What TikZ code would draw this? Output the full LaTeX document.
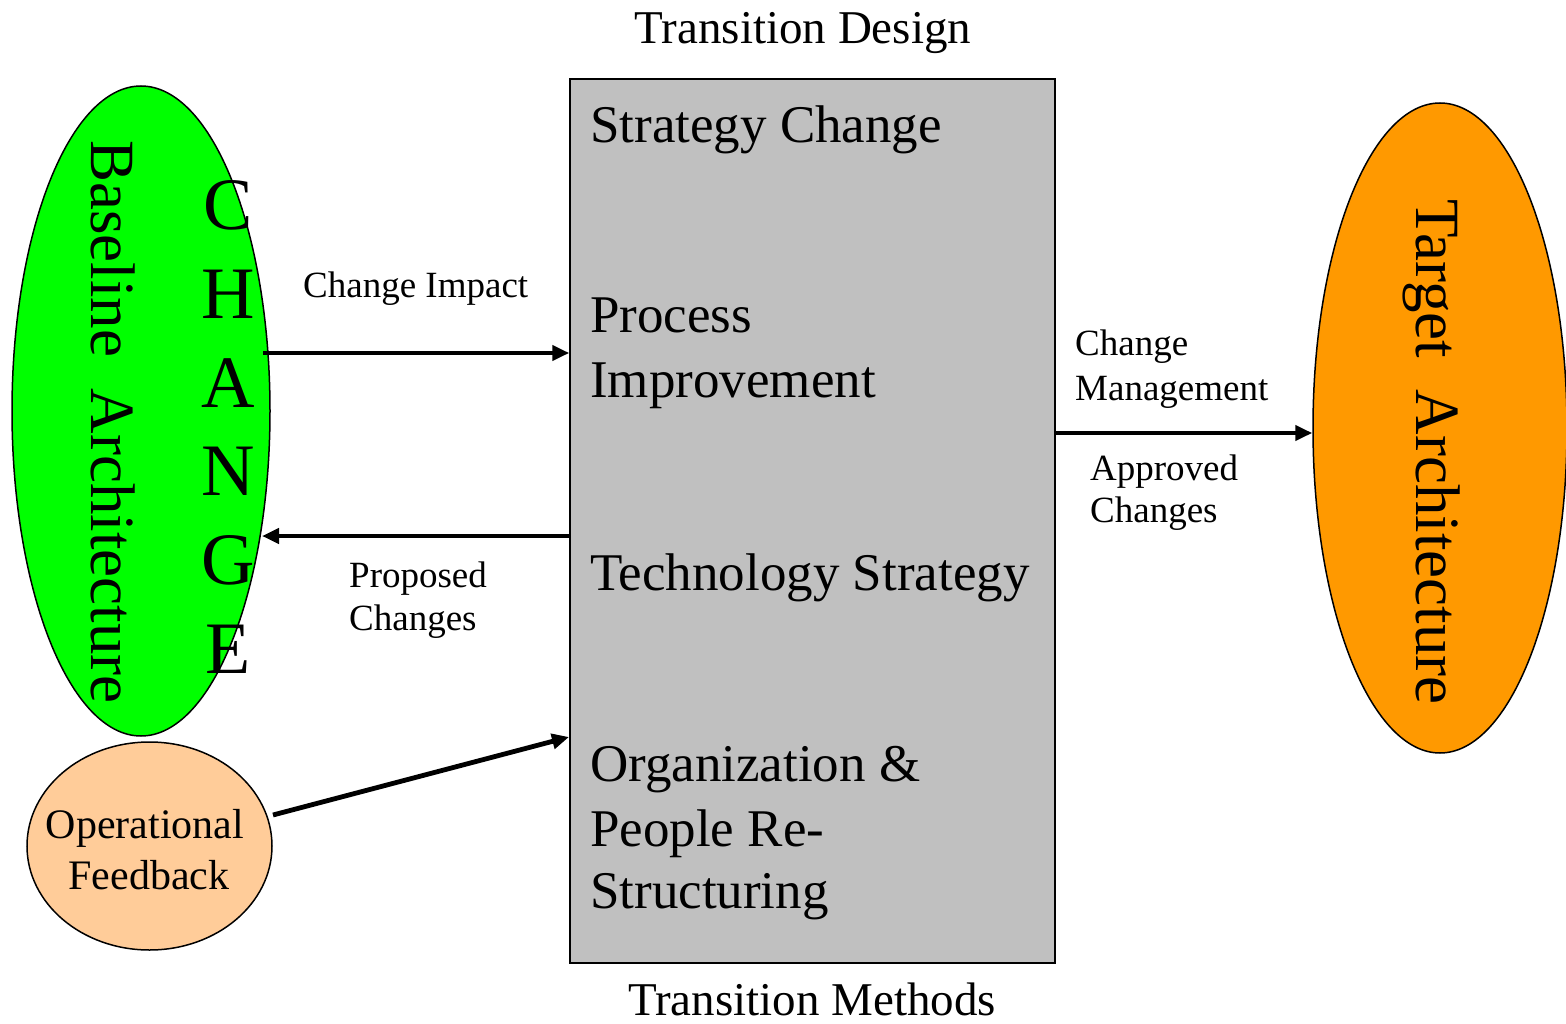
\documentclass[tikz,border=0pt]{standalone}
\usepackage{fontspec}
\setmainfont{Liberation Serif}
\usetikzlibrary{shapes.geometric,arrows.meta}
\begin{document}
\begin{tikzpicture}[x=1pt,y=-1pt,
  lbl/.style={inner sep=0pt,anchor=base west},
  title/.style={inner sep=0pt,anchor=base,font=\fontsize{47}{56}\selectfont},
  boxtxt/.style={lbl,font=\fontsize{53}{64}\selectfont},
  small/.style={lbl,font=\fontsize{37}{45}\selectfont},
  arr/.style={line width=4.8pt,-{Triangle[length=17pt,width=15pt]}},
  blob/.style={ellipse,draw=black,line width=1.5pt,inner sep=0pt}]
\useasboundingbox (0,0) rectangle (1566,1024);
\fill[white] (0,0) rectangle (1566,1024);

% main box
\node[draw=black,line width=1.5pt,fill={rgb,255:red,192;green,192;blue,192},inner sep=0pt,
  minimum width=485pt,minimum height=884pt] (box) at (812.5,521) {};

% ellipses
\node[blob,fill={rgb,255:red,0;green,255;blue,0},minimum width=258pt,minimum height=650pt] (base) at (141,411) {};
\node[blob,fill={rgb,255:red,255;green,153;blue,0},minimum width=254pt,minimum height=650pt] (target) at (1440,428) {};
\node[blob,fill={rgb,255:red,255;green,204;blue,153},minimum width=245pt,minimum height=208pt] (fb) at (149.5,846) {};

% titles
\node[title] (tdesign) at (803,44) {Transition Design};
\node[title] (tmethods) at (812,1015) {Transition Methods};

% box texts
\node[boxtxt] (s1) at (590,143) {Strategy Change};
\node[boxtxt] (s2a) at (590,333) {Process};
\node[boxtxt] (s2b) at (590,397) {Improvement};
\node[boxtxt] (s3) at (590,590) {Technology Strategy};
\node[boxtxt] (s4a) at (590,781) {Organization \&};
\node[boxtxt] (s4b) at (590,846) {People Re-};
\node[boxtxt] (s4c) at (590,908) {Structuring};

% rotated labels
\node[inner sep=0pt,rotate=-90,font=\fontsize{63}{70}\selectfont] (baselbl) at (113,422) {Baseline\ \ Architecture};
\node[inner sep=0pt,rotate=-90,font=\fontsize{63}{70}\selectfont] (targetlbl) at (1432,452) {Target\ \ Architecture};
\node[inner sep=0pt,align=center,font=\fontsize{74}{88.8}\selectfont] (changelbl) at (228,427) {C\\H\\A\\N\\G\\E};

% feedback text
\node[inner sep=0pt,anchor=base,font=\fontsize{42}{51}\selectfont] (fb1) at (145,838) {Operational};
\node[inner sep=0pt,anchor=base,font=\fontsize{42}{51}\selectfont] (fb2) at (149,889) {Feedback};

% arrow labels
\node[small] (ci) at (303,298) {Change Impact};
\node[small] (pc1) at (349,587) {Proposed};
\node[small] (pc2) at (349,630) {Changes};
\node[small] (cm1) at (1075,355) {Change};
\node[small] (cm2) at (1075,400) {Management};
\node[small] (ac1) at (1090,480) {Approved};
\node[small] (ac2) at (1090,522) {Changes};

% connectors
\coordinate (ciS) at (263,353);
\coordinate (pcE) at (262,536);
\coordinate (fbS) at (273,815);
\coordinate (fbE) at (569,737);
\draw[arr] (ciS) -- (box.west |- ciS);
\draw[arr] (box.west |- pcE) -- (pcE);
\draw[arr] (box.east |- 0,433) -- (target.west |- 0,433);
\draw[arr] (fbS) -- (fbE);
\end{tikzpicture}
\end{document}
